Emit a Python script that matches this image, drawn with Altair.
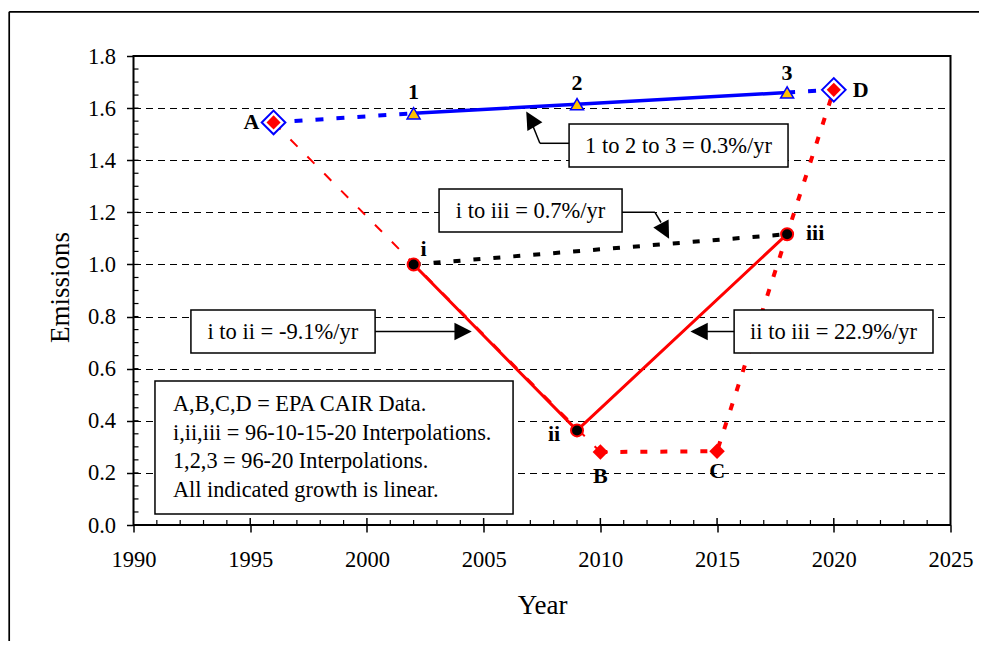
import altair as alt
import pandas as pd

FONT = "Liberation Serif"

# ---------------- data ----------------
epa_labels = ["A", "B", "C", "D"]
epa_years = [1996, 2010, 2015, 2020]
epa_values = [1.545, 0.28, 0.283, 1.67]

tri_labels = ["1", "2", "3"]
tri_years = [2002, 2009, 2018]
tri_values = [1.58, 1.615, 1.66]

circ_labels = ["i", "ii", "iii"]
circ_years = [2002, 2009, 2018]
circ_values = [1.0, 0.363, 1.116]

x_major = [1990, 1995, 2000, 2005, 2010, 2015, 2020, 2025]
y_major = [0.0, 0.2, 0.4, 0.6, 0.8, 1.0, 1.2, 1.4, 1.6, 1.8]
x_minor = [yr for yr in range(1991, 2025) if yr % 5]
y_minor = [round(0.05 * k, 2) for k in range(1, 36)]

rate_texts = ["1 to 2 to 3 = 0.3%/yr", "i to iii = 0.7%/yr",
              "i to ii = -9.1%/yr", "ii to iii = 22.9%/yr"]
note_lines = ["A,B,C,D = EPA CAIR Data.",
              "i,ii,iii = 96-10-15-20 Interpolations.",
              "1,2,3 = 96-20 Interpolations.",
              "All indicated growth is linear."]

# ---------------- annotation geometry (data units) ----------------
box_x1 = [2008.66, 2003.09, 1992.46, 2015.73]
box_x2 = [2018.04, 2010.93, 2000.35, 2024.25]
box_y1 = [1.539, 1.2895, 0.8251, 0.8251]
box_y2 = [1.374, 1.1245, 0.6601, 0.6601]
box_tx = [2013.35, 2007.01, 1996.40, 2019.99]
box_ty = [1.4565, 1.207, 0.7426, 0.7426]

arrow_x1 = [2008.66, 2007.41, 2010.93, 2012.34, 2000.35, 2015.73]
arrow_y1 = [1.465, 1.465, 1.200, 1.200, 0.7426, 0.7426]
arrow_x2 = [2007.41, 2007.11, 2012.34, 2012.60, 2003.77, 2014.57]
arrow_y2 = [1.465, 1.531, 1.200, 1.161, 0.7426, 0.7426]
head_x = [2007.01, 2012.77, 2004.12, 2014.23]
head_y = [1.558, 1.128, 0.7426, 0.7426]
head_angle = [330, 152, 90, 270]

note_box = [1990.92, 2006.26, 0.5527, 0.0422]
note_x = 1991.69
note_y = [0.4644, 0.3531, 0.2456, 0.1343]

label_offsets = {"A": (-22, 0), "B": (0, 24), "C": (0, 20), "D": (27, 0),
                 "1": (0, -21), "2": (0, -21), "3": (0, -19),
                 "i": (10, -15), "ii": (-23, 4), "iii": (28, -1)}

# ---------------- tables ----------------
epa = pd.DataFrame({"label": epa_labels, "year": epa_years, "value": epa_values})
tri = pd.DataFrame({"label": tri_labels, "year": tri_years, "value": tri_values})
circ = pd.DataFrame({"label": circ_labels, "year": circ_years, "value": circ_values})
allpts = pd.concat([epa, tri, circ], ignore_index=True)

def pt(df, lab):
    r = df[df.label == lab].iloc[0]
    return float(r.year), float(r.value)

def seg_table(segs):
    rows = []
    for s, pts in enumerate(segs):
        for k, (yr, v) in enumerate(pts):
            rows.append({"seg": s, "ord": k, "year": yr, "value": v})
    return pd.DataFrame(rows)

blue_dash = seg_table([[pt(epa, "A"), pt(tri, "1")], [pt(tri, "3"), pt(epa, "D")]])
blue_solid = seg_table([[pt(tri, l) for l in tri_labels]])
red_thin = seg_table([[pt(epa, "A"), pt(epa, "B")]])
red_dot = seg_table([[pt(epa, "B"), pt(epa, "C"), pt(epa, "D")]])
red_solid = seg_table([[pt(circ, l) for l in circ_labels]])
black_dot = seg_table([[pt(circ, "i"), pt(circ, "iii")]])

boxes = pd.DataFrame({"year": box_x1, "year2": box_x2, "value": box_y1, "value2": box_y2})
box_text = pd.DataFrame({"year": box_tx, "value": box_ty, "text": rate_texts})
arrows = pd.DataFrame({"year": arrow_x1, "value": arrow_y1, "year2": arrow_x2, "value2": arrow_y2})
heads = pd.DataFrame({"year": head_x, "value": head_y, "ang": head_angle})
nbox = pd.DataFrame({"year": [note_box[0]], "year2": [note_box[1]],
                     "value": [note_box[2]], "value2": [note_box[3]]})
ntext = pd.DataFrame({"year": [note_x] * 4, "value": note_y, "text": note_lines})

xmin_df = pd.DataFrame({"year": x_minor})
xmaj_df = pd.DataFrame({"year": x_major[1:-1]})
ymin_df = pd.DataFrame({"value": y_minor})

# ---------------- scales / axes ----------------
xs = alt.Scale(domain=[1990, 2025], nice=False, zero=False)
ys = alt.Scale(domain=[0, 1.8], nice=False, zero=False)

x_axis = alt.Axis(values=x_major, format="d", title="Year", grid=False, domain=False,
                  tickSize=7, tickColor="black", tickWidth=1.5,
                  labelFont=FONT, labelFontSize=22.5, labelColor="black",
                  labelPadding=16, labelFlush=False,
                  titleFont=FONT, titleFontSize=27, titleFontWeight="normal",
                  titleColor="black", titleBaseline="alphabetic", titleY=88)
y_axis = alt.Axis(values=y_major, format=".1f", title="Emissions", grid=True,
                  gridDash=[7, 5], gridColor="black", gridWidth=1, domain=False,
                  tickSize=7, tickColor="black", tickWidth=1.5,
                  labelFont=FONT, labelFontSize=22.5, labelColor="black", labelPadding=11,
                  titleFont=FONT, titleFontSize=27, titleFontWeight="normal",
                  titleColor="black", titleAngle=270, titleAlign="center",
                  titleBaseline="alphabetic", titleX=-65.5, titleY=231)

def X(f="year"):
    return alt.X(f"{f}:Q", scale=xs, axis=x_axis)

def Y(f="value"):
    return alt.Y(f"{f}:Q", scale=ys, axis=y_axis)

W, H = 817, 469
layers = []

# outer frame
layers.append(alt.Chart(pd.DataFrame({"a": [0]})).mark_rule(color="black", strokeWidth=1.7)
              .encode(x=alt.value(-124.3), y=alt.value(-44.2), y2=alt.value(700)))
layers.append(alt.Chart(pd.DataFrame({"a": [0]})).mark_rule(color="black", strokeWidth=1.7)
              .encode(x=alt.value(-124.3), x2=alt.value(1000), y=alt.value(-44.2)))

# axes carrier (gridlines)
layers.append(alt.Chart(allpts).mark_point(opacity=0).encode(x=X(), y=Y()))

# inside ticks
layers.append(alt.Chart(xmin_df).mark_rule(color="black", strokeWidth=1.2)
              .encode(x=X(), y=alt.value(H), y2=alt.value(H - 5)))
layers.append(alt.Chart(xmaj_df).mark_rule(color="black", strokeWidth=1.5)
              .encode(x=X(), y=alt.value(H), y2=alt.value(H - 7)))
layers.append(alt.Chart(ymin_df).mark_rule(color="black", strokeWidth=1.2)
              .encode(y=Y(), x=alt.value(0), x2=alt.value(5)))

def line(df, color, width, dash=None):
    kw = dict(color=color, strokeWidth=width, strokeCap="butt")
    if dash:
        kw["strokeDash"] = dash
    return alt.Chart(df).mark_line(**kw).encode(x=X(), y=Y(), detail="seg:N",
                                                 order="ord:Q")

layers.append(line(red_thin, "#FF0000", 2, [10, 14]))
layers.append(line(red_dot, "#FF0000", 4, [7, 13]))
layers.append(line(blue_dash, "#0000FF", 4, [8, 13]))
layers.append(line(blue_solid, "#0000FF", 3.5))
layers.append(line(black_dot, "black", 4, [7, 13]))
layers.append(line(red_solid, "#FF0000", 3))

# markers
ad = epa[epa.label.isin(["A", "D"])]
bc = epa[epa.label.isin(["B", "C"])]
layers.append(alt.Chart(ad).mark_point(shape="diamond", size=560, filled=True, fill="white",
                                       stroke="#0000FF", strokeWidth=2, opacity=1)
              .encode(x=X(), y=Y()))
layers.append(alt.Chart(ad).mark_point(shape="diamond", size=200, filled=True, fill="#FF0000",
                                       opacity=1).encode(x=X(), y=Y()))
layers.append(alt.Chart(bc).mark_point(shape="diamond", size=240, filled=True, fill="#FF0000",
                                       opacity=1).encode(x=X(), y=Y()))
layers.append(alt.Chart(tri).mark_point(shape="triangle-up", size=170, filled=True,
                                        fill="#FFC000", stroke="#0000FF", strokeWidth=1.5,
                                        opacity=1).encode(x=X(), y=Y()))
layers.append(alt.Chart(circ).mark_point(shape="circle", size=144, filled=True, fill="black",
                                         stroke="#FF0000", strokeWidth=2, opacity=1)
              .encode(x=X(), y=Y()))

# annotation boxes + arrows
layers.append(alt.Chart(boxes).mark_rect(fill="white", stroke="black", strokeWidth=1.5)
              .encode(x=X(), x2="year2:Q", y=Y(), y2="value2:Q"))
layers.append(alt.Chart(nbox).mark_rect(fill="white", stroke="black", strokeWidth=1.5)
              .encode(x=X(), x2="year2:Q", y=Y(), y2="value2:Q"))
layers.append(alt.Chart(arrows).mark_rule(color="black", strokeWidth=1.5)
              .encode(x=X(), x2="year2:Q", y=Y(), y2="value2:Q"))
layers.append(alt.Chart(heads).mark_point(shape="M0,-1L1,1L-1,1Z", size=300, filled=True,
                                          fill="black", opacity=1)
              .encode(x=X(), y=Y(), angle=alt.Angle("ang:Q", scale=None)))

layers.append(alt.Chart(box_text).mark_text(font=FONT, fontSize=22.5, color="black",
                                            align="center", baseline="middle")
              .encode(x=X(), y=Y(), text="text:N"))
layers.append(alt.Chart(ntext).mark_text(font=FONT, fontSize=22.3, color="black",
                                         align="left", baseline="middle")
              .encode(x=X(), y=Y(), text="text:N"))

# point labels
for lab, (dx, dy) in label_offsets.items():
    d = allpts[allpts.label == lab]
    layers.append(alt.Chart(d).mark_text(font=FONT, fontSize=22, fontWeight="bold",
                                         color="black", align="center", baseline="middle",
                                         dx=dx, dy=dy)
                  .encode(x=X(), y=Y(), text="label:N"))

chart = alt.layer(*layers).properties(
    width=W, height=H,
    padding={"left": 125.5, "top": 48, "right": 28, "bottom": 116},
    autosize=alt.AutoSizeParams(type="none"),
    background="white",
).configure_view(stroke="black", strokeWidth=2)

chart.save("out.html", embed_options={"renderer": "svg", "actions": False})
